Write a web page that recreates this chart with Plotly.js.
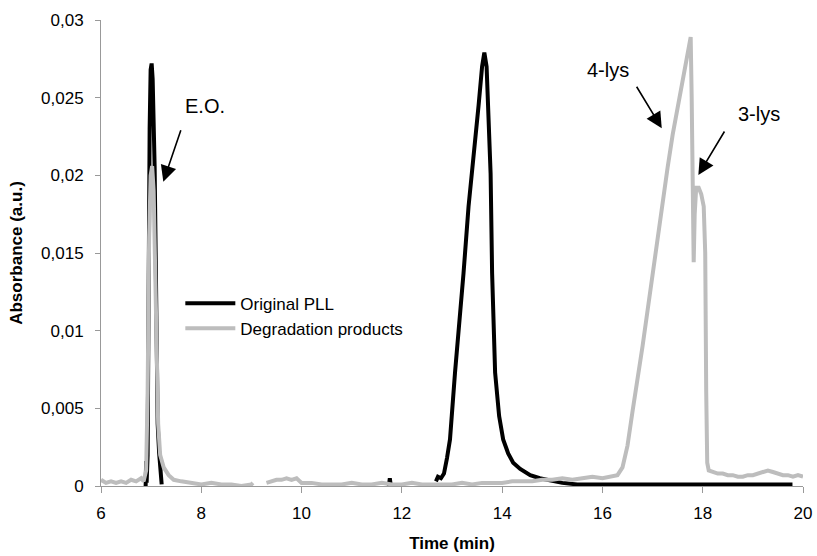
<!DOCTYPE html>
<html>
<head>
<meta charset="utf-8">
<script src="https://cdn.plot.ly/plotly-3.0.1.min.js"></script>
<style>html,body{margin:0;padding:0;background:#fff;}#chart{width:817px;height:556px;}</style>
</head>
<body>
<div id="chart"></div>
<script>
// Original PLL (black) — null marks gaps where the trace is not drawn
const pllTime = [6.89,6.90,6.91,6.93,6.95,6.97,6.99,7.01,7.03,7.05,7.07,7.09,7.11,7.13,7.16,7.19,7.21,null,
  11.74,11.76,11.78,null,
  12.68,12.72,12.78,12.84,12.90,12.96,13.06,13.15,13.23,13.33,13.43,13.53,13.60,13.645,13.69,13.74,13.77,13.80,13.86,13.94,14.02,14.12,14.22,14.36,14.56,14.75,14.89,15.0,15.2,15.5,15.8,16.2,16.6,17.0,17.4,17.8,18.2,18.6,19.0,19.4,19.79];
const pllAbs = [0.0000,0.0016,0.0002,0.0020,0.0150,0.0230,0.0268,0.0272,0.0262,0.0235,0.0205,0.0150,0.0075,0.0040,0.0021,0.0008,0.0001,null,
  0.0000,0.0005,0.0000,null,
  0.0003,0.0006,0.0005,0.0008,0.0018,0.0030,0.0073,0.0105,0.0137,0.0180,0.0210,0.0245,0.0270,0.0279,0.0270,0.0235,0.0201,0.0137,0.0073,0.0045,0.0030,0.0021,0.0015,0.0011,0.0007,0.0005,0.0004,0.0003,0.0002,0.0001,0.0001,0.0001,0.0001,0.0001,0.0001,0.0001,0.0001,0.0001,0.0001,0.0001,0.0001];

// Degradation products (grey)
const degTime = [6.0,6.1,6.2,6.3,6.4,6.5,6.6,6.7,6.8,6.85,6.9,6.93,6.96,6.99,7.02,7.05,7.08,7.11,7.14,7.18,7.25,7.35,7.45,7.6,7.8,8.0,8.2,8.4,8.6,8.8,9.0,9.03,null,
  9.3,9.4,9.5,9.6,9.7,9.8,9.9,10.0,10.2,10.4,10.6,10.8,11.0,11.2,11.4,11.6,11.8,12.0,12.2,12.4,12.6,12.8,13.0,13.2,13.4,13.6,13.8,14.0,14.2,14.4,14.6,14.8,15.0,15.2,15.4,15.6,15.8,16.0,16.2,16.3,
  16.4,16.5,16.6,16.7,16.8,16.9,17.0,17.1,17.2,17.3,17.4,17.5,17.6,17.7,17.76,17.78,17.80,17.82,17.84,17.87,17.92,17.97,18.02,18.05,18.07,18.09,18.12,18.2,18.3,18.4,18.5,18.6,18.7,18.8,18.9,19.0,19.1,19.2,19.3,19.4,19.5,19.6,19.7,19.8,19.9,20.0];
const degAbs = [0.0004,0.0002,0.0003,0.0002,0.0003,0.0002,0.0004,0.0003,0.0005,0.0003,0.0010,0.0060,0.0160,0.0200,0.0206,0.0190,0.0140,0.0080,0.0040,0.0020,0.0012,0.0007,0.0004,0.0003,0.0002,0.0001,0.0002,0.0001,0.0001,0.0000,0.0001,0.0002,null,
  0.0002,0.0003,0.0004,0.0004,0.0005,0.0004,0.0005,0.0002,0.0002,0.0001,0.0001,0.0001,0.0002,0.0001,0.0001,0.0002,0.0001,0.0001,0.0002,0.0001,0.0001,0.0001,0.0001,0.0002,0.0001,0.0002,0.0002,0.0002,0.0003,0.0003,0.0003,0.0004,0.0004,0.0005,0.0004,0.0005,0.0006,0.0005,0.0006,0.0007,
  0.0012,0.0026,0.0048,0.0068,0.0090,0.0113,0.0137,0.0160,0.0183,0.0205,0.0226,0.0244,0.0262,0.0280,0.0289,0.0250,0.0180,0.0144,0.0175,0.0192,0.0192,0.0188,0.0180,0.0150,0.0060,0.0015,0.0010,0.0009,0.0008,0.0008,0.0007,0.0007,0.0006,0.0006,0.0007,0.0007,0.0008,0.0009,0.0010,0.0009,0.0008,0.0007,0.0007,0.0006,0.0007,0.0006];

const yTickVals = [0,0.005,0.01,0.015,0.02,0.025,0.03];
const yTickText = ['0','0,005','0,01','0,015','0,02','0,025','0,03'];
const xTickVals = [6,8,10,12,14,16,18,20];
const xTickText = ['6','8','10','12','14','16','18','20'];

const traces = [
  {x: pllTime, y: pllAbs, type: 'scatter', mode: 'lines', name: 'Original PLL',
   line: {color: '#000000', width: 4}, connectgaps: false},
  {x: degTime, y: degAbs, type: 'scatter', mode: 'lines', name: 'Degradation products',
   line: {color: '#bdbdbd', width: 4}, connectgaps: false}
];

const F = 'Arial, "Liberation Sans", sans-serif';
const arrowStyle = {showarrow: true, arrowhead: 2, arrowsize: 2, arrowwidth: 1.6, arrowcolor: '#000', text: ''};

const layout = {
  width: 817, height: 556,
  margin: {l: 101, r: 14, t: 20, b: 70},
  paper_bgcolor: '#fff', plot_bgcolor: '#fff',
  font: {family: F, color: '#000', size: 17},
  showlegend: true,
  legend: {x: 0.113, y: 0.43, xanchor: 'left', yanchor: 'top', bgcolor: 'rgba(0,0,0,0)',
           font: {family: F, size: 17}, itemwidth: 50, tracegroupgap: 0},
  xaxis: {range: [6, 20], tickvals: xTickVals, ticktext: xTickText, showgrid: false, zeroline: false,
          showline: true, linecolor: '#999', linewidth: 1, ticks: 'outside', ticklen: 6, tickcolor: '#999',
          tickfont: {family: F, size: 17}, ticklabelstandoff: 6,
          title: {text: '<b>Time (min)</b>', font: {family: F, size: 17}, standoff: 14}},
  yaxis: {range: [0, 0.03], tickvals: yTickVals, ticktext: yTickText, showgrid: false, zeroline: false,
          showline: true, linecolor: '#999', linewidth: 1, ticks: 'outside', ticklen: 5, tickcolor: '#999',
          tickfont: {family: F, size: 17}, ticklabelstandoff: 8,
          title: {text: '<b>Absorbance (a.u.)</b>', font: {family: F, size: 17}, standoff: 14}},
  annotations: [
    {x: 8.074, y: 0.02448, xref: 'x', yref: 'y', text: 'E.O.', showarrow: false, font: {family: F, size: 20}},
    {x: 16.102, y: 0.02681, xref: 'x', yref: 'y', text: '4-lys', showarrow: false, font: {family: F, size: 20}},
    {x: 19.123, y: 0.02392, xref: 'x', yref: 'y', text: '3-lys', showarrow: false, font: {family: F, size: 20}},
    Object.assign({x: 7.243, y: 0.01959, xref: 'x', yref: 'y', ax: 18, ay: -53}, arrowStyle),
    Object.assign({x: 17.183, y: 0.02303, xref: 'x', yref: 'y', ax: -26, ay: -43}, arrowStyle),
    Object.assign({x: 17.913, y: 0.02002, xref: 'x', yref: 'y', ax: 27, ay: -45}, arrowStyle)
  ]
};

Plotly.newPlot('chart', traces, layout, {displayModeBar: false, staticPlot: true});
</script>
</body>
</html>
